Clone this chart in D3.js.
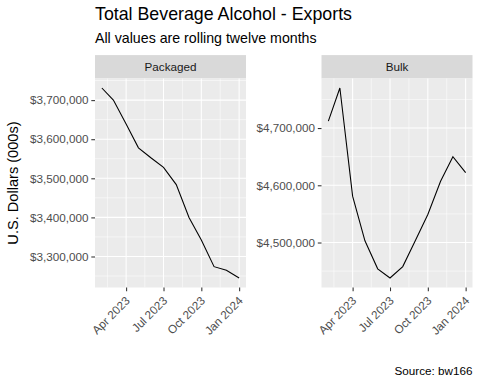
<!DOCTYPE html>
<html>
<head>
<meta charset="utf-8">
<script src="https://cdn.jsdelivr.net/npm/d3@7/dist/d3.min.js"></script>
<style>
  body { margin: 0; background: #fff; }
  svg { display: block; font-family: "Liberation Sans", Arial, sans-serif; }
</style>
</head>
<body>
<script>
var w = 480;
var h = 384;

// monthly rolling-twelve-month totals, in thousands of dollars
var months = ['2023-02-01', '2023-03-01', '2023-04-01', '2023-05-01', '2023-06-01', '2023-07-01',
              '2023-08-01', '2023-09-01', '2023-10-01', '2023-11-01', '2023-12-01', '2024-01-01'];
var packaged = [3731000, 3700000, 3639000, 3578000, 3552000, 3528000,
                3484000, 3400000, 3342000, 3274000, 3265000, 3245000];
var bulk = [4712000, 4770000, 4581000, 4503000, 4454000, 4438000,
            4458000, 4504000, 4549000, 4607000, 4650000, 4622000];
var xTicks = ['2023-04-01', '2023-07-01', '2023-10-01', '2024-01-01'];
var packagedTicks = [3300000, 3400000, 3500000, 3600000, 3700000];
var bulkTicks = [4500000, 4600000, 4700000];

var parse = d3.utcParse('%Y-%m-%d');
var dates = months.map(parse);
var xTickDates = xTicks.map(parse);

var panels = [
  { name: 'Packaged', values: packaged, ticks: packagedTicks, left: 95 },
  { name: 'Bulk', values: bulk, ticks: bulkTicks, left: 321.5 }
];
var pw = 151;
var pTop = 78.5, pBottom = 287.5;
var stripH = 23.4;

var fmt = d3.format('$,.0f');
var tfmt = d3.utcFormat('%b %Y');

var svg = d3.select('body')
  .append('svg')
  .attr('width', w)
  .attr('height', h);

// title, subtitle
svg.append('text')
  .attr('x', 95).attr('y', 19.8)
  .attr('font-size', 17.8).attr('fill', '#000')
  .text('Total Beverage Alcohol - Exports');
svg.append('text')
  .attr('x', 95).attr('y', 42.6)
  .attr('font-size', 14.2).attr('fill', '#000')
  .text('All values are rolling twelve months');

// y axis title
svg.append('text')
  .attr('transform', 'translate(18,' + ((pTop + pBottom) / 2) + ') rotate(-90)')
  .attr('text-anchor', 'middle')
  .attr('font-size', 14.6).attr('fill', '#000')
  .text('U.S. Dollars (000s)');

// caption
svg.append('text')
  .attr('x', 472.5).attr('y', 374.5)
  .attr('text-anchor', 'end')
  .attr('font-size', 11.7).attr('fill', '#000')
  .text('Source: bw166');

function midpoints(arr) {
  var out = [];
  for (var i = 0; i < arr.length - 1; i++) out.push((arr[i] + arr[i + 1]) / 2);
  return out;
}

panels.forEach(function(p) {
  var xExt = d3.extent(dates);
  var xPad = (xExt[1] - xExt[0]) * 0.05;
  var x = d3.scaleUtc()
    .domain([new Date(+xExt[0] - xPad), new Date(+xExt[1] + xPad)])
    .range([p.left, p.left + pw]);

  var yExt = d3.extent(p.values);
  var yPad = (yExt[1] - yExt[0]) * 0.05;
  var y = d3.scaleLinear()
    .domain([yExt[0] - yPad, yExt[1] + yPad])
    .range([pBottom, pTop]);

  var g = svg.append('g');

  // strip
  g.append('rect')
    .attr('x', p.left).attr('y', pTop - stripH)
    .attr('width', pw).attr('height', stripH)
    .attr('fill', '#D9D9D9');
  g.append('text')
    .attr('x', p.left + pw / 2).attr('y', pTop - stripH / 2 + 4.1)
    .attr('text-anchor', 'middle')
    .attr('font-size', 11.7).attr('fill', '#1A1A1A')
    .text(p.name);

  // panel
  g.append('rect')
    .attr('x', p.left).attr('y', pTop)
    .attr('width', pw).attr('height', pBottom - pTop)
    .attr('fill', '#EBEBEB');

  // minor grid
  var step = p.ticks[1] - p.ticks[0];
  var yMinor = midpoints([p.ticks[0] - step].concat(p.ticks, [p.ticks[p.ticks.length - 1] + step]))
    .filter(function(v) { return v >= y.domain()[0] && v <= y.domain()[1]; });
  var xt = xTickDates.map(Number);
  var xStep = xt[1] - xt[0];
  var xMinor = midpoints([xt[0] - xStep].concat(xt, [xt[xt.length - 1] + xStep]))
    .filter(function(v) { return v >= +x.domain()[0] && v <= +x.domain()[1]; });

  g.selectAll('.ymin').data(yMinor).enter().append('line')
    .attr('x1', p.left).attr('x2', p.left + pw)
    .attr('y1', function(d) { return y(d); }).attr('y2', function(d) { return y(d); })
    .attr('stroke', '#fff').attr('stroke-width', 0.53);
  g.selectAll('.xmin').data(xMinor).enter().append('line')
    .attr('y1', pTop).attr('y2', pBottom)
    .attr('x1', function(d) { return x(d); }).attr('x2', function(d) { return x(d); })
    .attr('stroke', '#fff').attr('stroke-width', 0.53);

  // major grid
  g.selectAll('.ymaj').data(p.ticks).enter().append('line')
    .attr('x1', p.left).attr('x2', p.left + pw)
    .attr('y1', function(d) { return y(d); }).attr('y2', function(d) { return y(d); })
    .attr('stroke', '#fff').attr('stroke-width', 1.07);
  g.selectAll('.xmaj').data(xTickDates).enter().append('line')
    .attr('y1', pTop).attr('y2', pBottom)
    .attr('x1', function(d) { return x(d); }).attr('x2', function(d) { return x(d); })
    .attr('stroke', '#fff').attr('stroke-width', 1.07);

  // line
  var line = d3.line()
    .x(function(d, i) { return x(dates[i]); })
    .y(function(d) { return y(d); });
  g.append('path')
    .datum(p.values)
    .attr('d', line)
    .attr('fill', 'none')
    .attr('stroke', '#000')
    .attr('stroke-width', 1.07);

  // y axis
  var ya = g.append('g')
    .attr('transform', 'translate(' + p.left + ',0)')
    .call(d3.axisLeft(y).tickValues(p.ticks).tickFormat(fmt).tickSize(3.7).tickPadding(2.9));
  ya.select('.domain').remove();
  ya.selectAll('line').attr('stroke', '#333333').attr('stroke-width', 1.07);
  ya.selectAll('text').attr('fill', '#4D4D4D').attr('font-size', 11.7)
    .attr('font-family', '"Liberation Sans", Arial, sans-serif');

  // x axis
  var xa = g.append('g')
    .attr('transform', 'translate(0,' + pBottom + ')')
    .call(d3.axisBottom(x).tickValues(xTickDates).tickFormat(tfmt).tickSize(3.7).tickPadding(2.9));
  xa.select('.domain').remove();
  xa.selectAll('line').attr('stroke', '#333333').attr('stroke-width', 1.07);
  xa.selectAll('text')
    .attr('fill', '#4D4D4D').attr('font-size', 11.7)
    .attr('font-family', '"Liberation Sans", Arial, sans-serif')
    .attr('y', 0).attr('dy', 0)
    .attr('text-anchor', 'end')
    .attr('transform', 'translate(4,14) rotate(-45)');
});
</script>
</body>
</html>
